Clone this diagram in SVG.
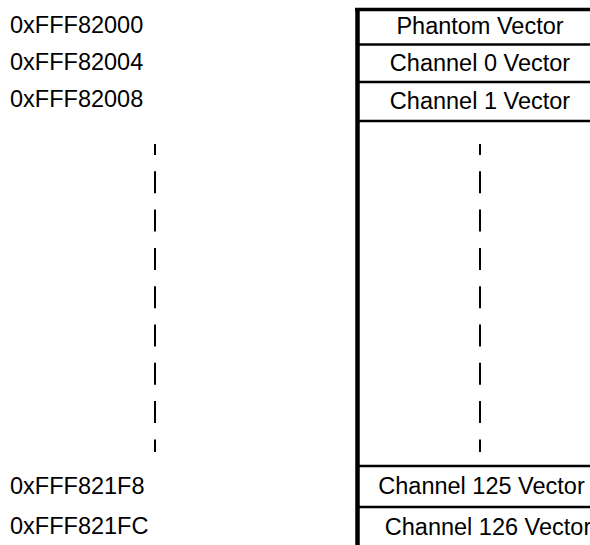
<svg xmlns="http://www.w3.org/2000/svg" width="590" height="545" viewBox="0 0 590 545">
<style>
text{font-family:"Liberation Sans",Arial,sans-serif;font-size:23.5px;fill:#000}
.c{text-anchor:middle}
.sep{stroke:#000;stroke-width:2.5}
.dash{stroke:#000;stroke-width:2;stroke-dasharray:22 16.3;stroke-dashoffset:11}
</style>
<rect width="590" height="545" fill="#fff"/>
<g id="addresses">
<text x="10" y="33">0xFFF82000</text>
<text x="10" y="70">0xFFF82004</text>
<text x="10" y="107">0xFFF82008</text>
<text x="10" y="494">0xFFF821F8</text>
<text x="10" y="534">0xFFF821FC</text>
</g>
<g id="table">
<line x1="357.5" y1="9.5" x2="357.5" y2="545" stroke="#000" stroke-width="4.5"/>
<line x1="355" y1="9.5" x2="590" y2="9.5" stroke="#000" stroke-width="3.5"/>
<line class="sep" x1="357" y1="44.5" x2="590" y2="44.5"/>
<line class="sep" x1="357" y1="82" x2="590" y2="82"/>
<line class="sep" x1="357" y1="121" x2="590" y2="121"/>
<line class="sep" x1="357" y1="466" x2="590" y2="466"/>
<line class="sep" x1="357" y1="507" x2="590" y2="507"/>
</g>
<g id="phantom"><text class="c" x="480" y="34">Phantom Vector</text></g>
<g id="ch0"><text class="c" x="480" y="71">Channel 0 Vector</text></g>
<g id="ch1"><text class="c" x="480" y="109">Channel 1 Vector</text></g>
<g id="ch125"><text class="c" x="481.5" y="494">Channel 125 Vector</text></g>
<g id="ch126"><text class="c" x="488" y="535">Channel 126 Vector</text></g>
<g id="connectors">
<line class="dash" x1="155" y1="144" x2="155" y2="452"/>
<line class="dash" x1="480" y1="144" x2="480" y2="452"/>
</g>
</svg>
